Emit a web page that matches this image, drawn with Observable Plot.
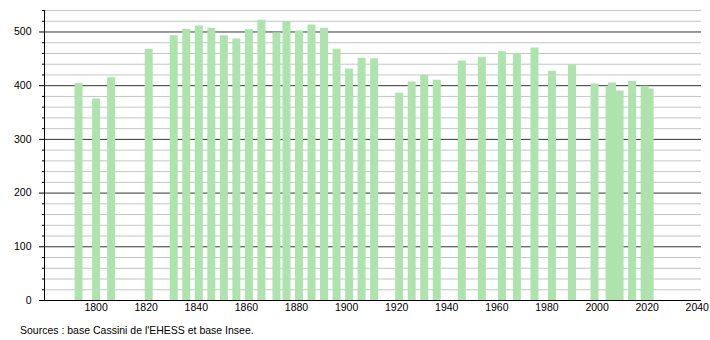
<!DOCTYPE html>
<html>
<head>
<meta charset="utf-8">
<script src="https://cdn.jsdelivr.net/npm/d3@7"></script>
<script src="https://cdn.jsdelivr.net/npm/@observablehq/plot@0.6"></script>
<style>
  html, body { margin: 0; padding: 0; background: #fff; }
  #chart svg { display: block; }
  #caption { font-family: "Liberation Sans", Arial, sans-serif; font-size: 10.5px; color: #000;
             margin: 8px 0 0 20px; line-height: 13px; }
</style>
</head>
<body>
<div id="chart"></div>
<div id="caption">Sources : base Cassini de l'EHESS et base Insee.</div>
<script>
const years = [1793, 1800, 1806, 1821, 1831, 1836, 1841, 1846, 1851, 1856, 1861, 1866, 1872, 1876, 1881, 1886, 1891, 1896, 1901, 1906, 1911, 1921, 1926, 1931, 1936, 1946, 1954, 1962, 1968, 1975, 1982, 1990, 1999, 2005, 2006, 2009, 2014, 2019, 2021];
const population = [404, 375, 415, 468, 493, 505, 511, 507, 493, 487, 504, 522, 498, 519, 502, 513, 507, 468, 431, 451, 450, 386, 407, 419, 410, 446, 453, 463, 460, 470, 427, 439, 403, 399, 405, 390, 408, 399, 394];
const xTicks = [1800, 1820, 1840, 1860, 1880, 1900, 1920, 1940, 1960, 1980, 2000, 2020, 2040];
const yMajor = [0, 100, 200, 300, 400, 500];
const yMinor = d3.range(20, 541, 20).filter(v => v % 100 !== 0);

const data = years.map((y, i) => ({year: y, pop: population[i]}));
const xDomain = [1779.4, 2041.7];

const chart = Plot.plot({
  width: 710,
  height: 316,
  marginLeft: 44,
  marginRight: 9,
  marginTop: 10,
  marginBottom: 16,
  style: {fontFamily: "'Liberation Sans', Arial, sans-serif", fontSize: "10.5px", color: "#000", background: "#fff"},
  x: {domain: xDomain, axis: null},
  y: {domain: [0, 540], axis: null},
  marks: [
    Plot.ruleY(yMinor, {stroke: "#c4c4c4", strokeWidth: 1}),
    Plot.ruleY(yMajor, {stroke: "#333", strokeWidth: 1}),
    Plot.ruleX(data, {x: "year", y1: 0, y2: "pop", stroke: "#aee3ae", strokeWidth: 8}),
    Plot.ruleY([0], {stroke: "#000", strokeWidth: 1}),
    Plot.ruleX([xDomain[0]], {stroke: "#000", strokeWidth: 1}),
    Plot.axisY({ticks: yMajor, tickSize: 5, tickPadding: 8, tickFormat: "d", anchor: "left", label: null}),
    Plot.axisY({ticks: yMinor, tickSize: 2, tickFormat: () => "", anchor: "left", label: null}),
    Plot.axisX({ticks: xTicks, tickSize: 0, tickPadding: 3, tickFormat: "d", anchor: "bottom", label: null})
  ]
});
document.getElementById("chart").appendChild(chart);
</script>
</body>
</html>
